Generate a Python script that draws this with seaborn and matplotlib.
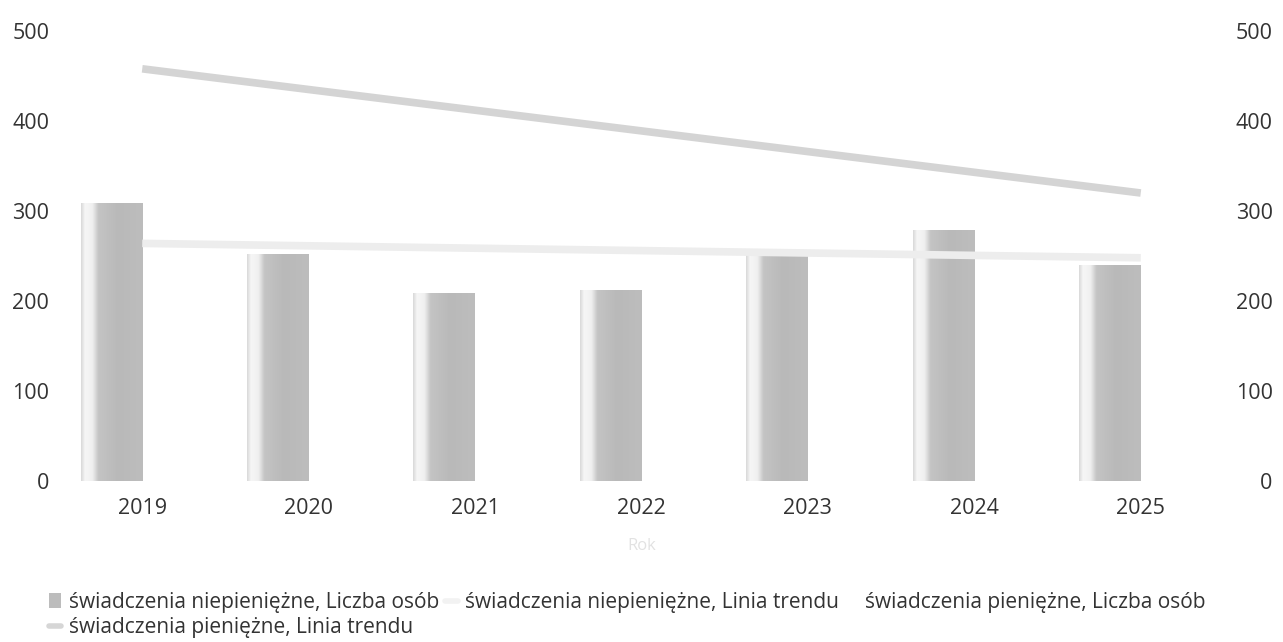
import numpy as np
import pandas as pd
import matplotlib
matplotlib.use('Agg')
import matplotlib.pyplot as plt
import seaborn as sns
from matplotlib.patches import Patch
from matplotlib.lines import Line2D
from matplotlib.colors import LinearSegmentedColormap

# Values
years = ['2019', '2020', '2021', '2022', '2023', '2024', '2025']
niepieniezne = [309, 252, 209, 212, 257, 279, 240]
# trend lines, read at the first and last year
trend_x = [0, 6]
niepieniezne_trend = [264, 248]
pieniezne_trend = [458, 320]   # pieniężne bars themselves are blank in the scan

sns.set_theme(style='white')
plt.rcParams['font.family'] = ['Open Sans', 'DejaVu Sans']

df = pd.DataFrame({'Rok': years, 'Liczba osób': niepieniezne,
                   'seria': 'świadczenia niepieniężne'})

fig = plt.figure(figsize=(12.83, 6.42), dpi=100)
ax = fig.add_axes([0.046, 0.2508, 0.908, 0.7009])

sns.barplot(data=df, x='Rok', y='Liczba osób', hue='seria',
            hue_order=['świadczenia niepieniężne', 'świadczenia pieniężne'],
            palette=['#bcbcbc', '#ffffff'], width=0.74, dodge=True,
            legend=False, ax=ax)

# shaded look of the scanned bars (light strip on the left)
shade = LinearSegmentedColormap.from_list('shade', [
    (0.0, '#dadada'), (0.06, '#f6f6f6'), (0.18, '#f0f0f0'),
    (0.28, '#c4c4c4'), (0.6, '#b9b9b9'), (1.0, '#bdbdbd')])
grad = np.linspace(0, 1, 100).reshape(1, -1)
for p in list(ax.patches):
    if p.get_height() > 0:
        x0, y0 = p.get_x(), p.get_y()
        im = ax.imshow(grad, cmap=shade, aspect='auto', zorder=2,
                       extent=(x0, x0 + p.get_width(), y0, y0 + p.get_height()))
        im.set_clip_path(p)

ax.plot(trend_x, niepieniezne_trend, color='#ededed', lw=5.5,
        solid_capstyle='butt', zorder=4)

ax2 = ax.twinx()
ax2.plot(trend_x, pieniezne_trend, color='#d4d4d4', lw=5.5, solid_capstyle='butt')

for a in (ax, ax2):
    a.set_ylim(0, 500)
    a.set_yticks(range(0, 501, 100))
    a.set_xlim(-0.5, 6.5)
    for s in a.spines.values():
        s.set_visible(False)
    a.tick_params(length=0, labelsize=15.5, colors='#333333')
    a.grid(False)

ax.tick_params(axis='x', pad=12)
ax.tick_params(axis='y', pad=7)
ax2.tick_params(axis='y', pad=35)
for t in ax2.get_yticklabels():
    t.set_horizontalalignment('right')
ax.set_ylabel('')
ax.set_xlabel('Rok', color='#e2e2e2', fontsize=12, labelpad=14)

handles = [
    Patch(facecolor='#bcbcbc', edgecolor='none'),
    Line2D([], [], color='#d6d6d6', lw=4),
    Line2D([], [], color='#f2f2f2', lw=4),
    Patch(facecolor='#ffffff', edgecolor='none'),
]
labels = [
    'świadczenia niepieniężne, Liczba osób',
    'świadczenia pieniężne, Linia trendu',
    'świadczenia niepieniężne, Linia trendu',
    'świadczenia pieniężne, Liczba osób',
]
fig.legend(handles, labels, ncol=3, loc='upper left',
           bbox_to_anchor=(0.038, 0.078), frameon=False,
           fontsize=15, labelcolor='#333333', handlelength=0.6,
           handletextpad=0.35, columnspacing=0.3, labelspacing=0.2,
           borderaxespad=0, borderpad=0)

fig.savefig('out.png', dpi=100)
